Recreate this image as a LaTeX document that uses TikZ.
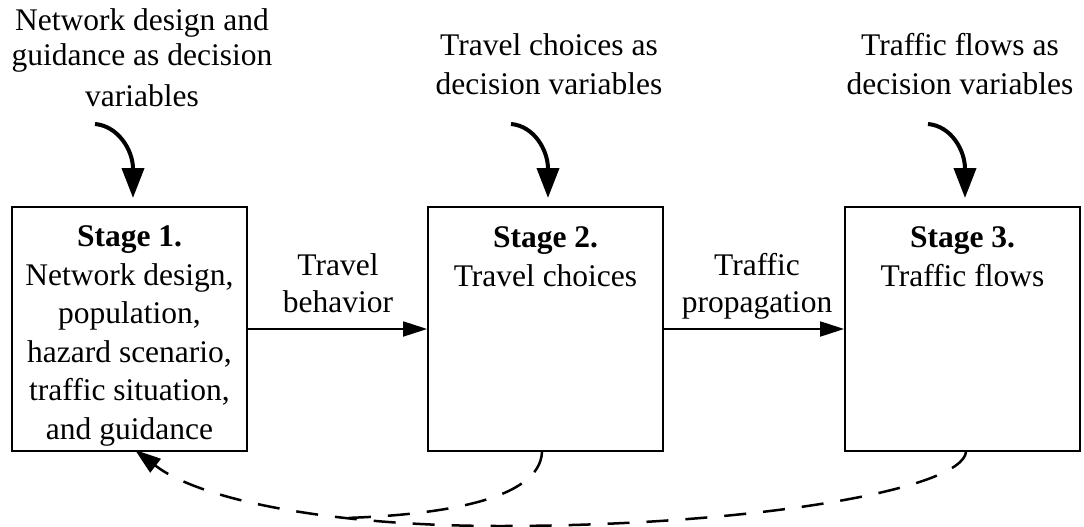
\documentclass[tikz,border=0pt]{standalone}
\usepackage{fontspec}
\setmainfont{Liberation Serif}
\usetikzlibrary{arrows.meta}
\begin{document}
\begin{tikzpicture}[x=1pt,y=-1pt,
  every node/.style={inner sep=0pt, align=center, font=\fontsize{31.5}{38.5}\selectfont},
  stagebox/.style={draw, line width=1.8pt, minimum width=235pt, minimum height=244pt},
  flow/.style={line width=1.8pt, -{Triangle[length=24pt,width=15pt]}},
  choice/.style={line width=4pt, -{Triangle[length=30pt,width=22pt]}},
  feedback/.style={line width=2.5pt, dash pattern=on 22pt off 17pt,
    -{Triangle[length=26pt,width=17pt]}},
  merge/.style={line width=2.5pt, dash pattern=on 22pt off 17pt}]
\useasboundingbox (0,0) rectangle (1084,527);

% stage boxes
\node[stagebox] (s1) at (129.5,329) {};
\node[stagebox] (s2) at (545.5,329) {};
\node[stagebox] (s3) at (962.5,329) {};

% box contents (anchored at the baseline of the last line)
\node[anchor=base] (l1) at (129.5,439) {\textbf{Stage 1.}\\Network design,\\population,\\hazard scenario,\\traffic situation,\\and guidance};
\node[anchor=base] (l2) at (545.5,286) {\textbf{Stage 2.}\\Travel choices};
\node[anchor=base] (l3) at (962.5,286) {\textbf{Stage 3.}\\Traffic flows};

% decision-variable captions
\node[anchor=base] (t1) at (142,106) {Network design and\\[-3.5pt]guidance as decision\\[1.5pt]variables};
\node[anchor=base] (t2) at (549,94) {Travel choices as\\decision variables};
\node[anchor=base] (t3) at (960,94) {Traffic flows as\\decision variables};

% links between stages
\draw[flow] (s1.east) -- (s2.west);
\draw[flow] (s2.east) -- (s3.west);
\node[anchor=base] (f1) at (338,312) {Travel\\[-1.5pt]behavior};
\node[anchor=base] (f2) at (757,312) {Traffic\\[-1.5pt]propagation};

% decision arrows
\coordinate (a1) at (95,124);  \coordinate (b1) at (133,198);
\coordinate (a2) at (511,124); \coordinate (b2) at (548,198);
\coordinate (a3) at (928,124); \coordinate (b3) at (965,198);
\draw[choice] (a1) .. controls (118,126) and (133,150) .. (b1);
\draw[choice] (a2) .. controls (534,126) and (548,150) .. (b2);
\draw[choice] (a3) .. controls (951,126) and (965,150) .. (b3);

% feedback loops
\coordinate (low) at (500,526);
\coordinate (join) at (345,518);
\draw[feedback] ([xshift=3.5pt]s3.south) .. controls (962,490) and (750,526) .. (low)
  .. controls (330,526) and (200,500) .. ([xshift=5.5pt,yshift=2pt]s1.south);
\draw[merge] ([xshift=-3.5pt]s2.south) .. controls (540,500) and (440,515) .. (join);
\end{tikzpicture}
\end{document}
